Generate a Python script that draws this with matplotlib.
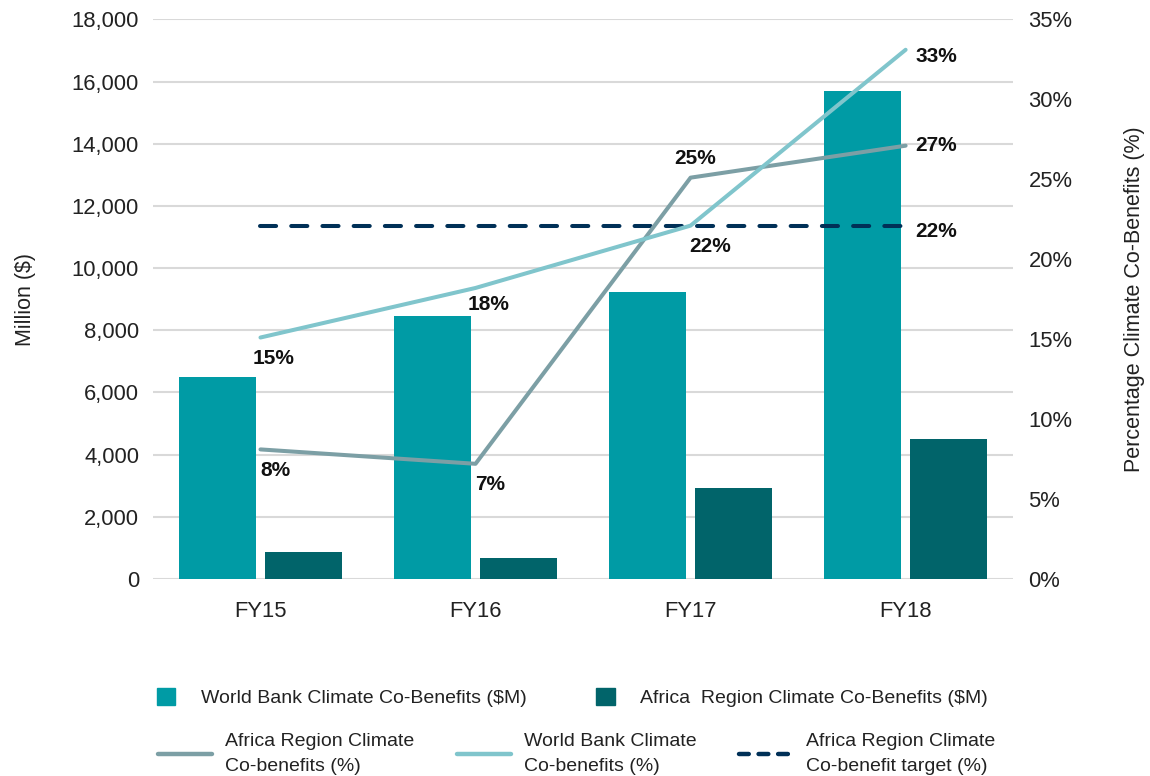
import matplotlib
matplotlib.use('Agg')
import matplotlib.pyplot as plt
import numpy as np
from matplotlib.patches import Patch
from matplotlib.lines import Line2D

plt.rcParams['font.family'] = ['Liberation Sans', 'DejaVu Sans']

years = ['FY15', 'FY16', 'FY17', 'FY18']
wb_usd = [6500, 8450, 9230, 15700]
africa_usd = [870, 680, 2930, 4500]
africa_pct = [8.1, 7.2, 25.1, 27.1]
wb_pct = [15.1, 18.2, 22.1, 33.1]
target_pct = [22.1, 22.1, 22.1, 22.1]
africa_lbl = ['8%', '7%', '25%', '27%']
wb_lbl = ['15%', '18%', '22%', '33%']

c_wb_bar = '#009BA5'
c_af_bar = '#01646A'
c_af_line = '#7C9FA5'
c_wb_line = '#80C5CC'
c_target = '#003057'
txt = '#222222'

fig = plt.figure(figsize=(11.5, 7.76), dpi=100)
ax = fig.add_axes([0.133, 0.254, 0.748, 0.721])
x = np.arange(len(years))
w = 0.36

ax.bar(x - 0.2, wb_usd, w, color=c_wb_bar, zorder=2)
ax.bar(x + 0.2, africa_usd, w, color=c_af_bar, zorder=2)
ax.set_xlim(-0.5, 3.5)
ax.set_ylim(0, 18000)
ax.set_yticks(range(0, 18001, 2000))
ax.set_yticklabels([f'{v:,}' for v in range(0, 18001, 2000)])
ax.set_xticks(x)
ax.set_xticklabels(years)
ax.grid(axis='y', color='#D9D9D9', lw=1.5, zorder=0)
ax.set_axisbelow(True)
for s in ax.spines.values():
    s.set_visible(False)
ax.tick_params(axis='y', length=0, pad=10, labelsize=15.8, labelcolor=txt)
ax.tick_params(axis='x', length=0, pad=16, labelsize=15.8, labelcolor=txt)
ax.set_ylabel('Million ($)', fontsize=15.5, color=txt, labelpad=26)

ax2 = ax.twinx()
ax2.set_ylim(0, 35)
ax2.set_yticks(range(0, 36, 5))
ax2.set_yticklabels([f'{v}%' for v in range(0, 36, 5)])
for s in ax2.spines.values():
    s.set_visible(False)
ax2.tick_params(axis='y', length=0, pad=11, labelsize=15.8, labelcolor=txt)
ax2.set_ylabel('Percentage Climate Co-Benefits (%)', fontsize=15.5, color=txt,
               rotation=90, labelpad=37)

ax2.plot(x, target_pct, color=c_target, lw=2.9, dashes=(4, 3.75),
         dash_capstyle='round', solid_capstyle='round', zorder=3)
ax2.plot(x, africa_pct, color=c_af_line, lw=2.9, solid_capstyle='round', zorder=4)
ax2.plot(x, wb_pct, color=c_wb_line, lw=2.9, solid_capstyle='round', zorder=5)

bold = dict(fontsize=15, fontweight='bold', color='#111111')
# data labels
for i in range(3):
    if i == 2:
        ax2.annotate(africa_lbl[i], (x[i], africa_pct[i]), xytext=(3, 14),
                     textcoords='offset points', ha='center', va='center', **bold)
        ax2.annotate(wb_lbl[i], (x[i], wb_pct[i]), xytext=(14, -15),
                     textcoords='offset points', ha='center', va='center', **bold)
    else:
        ax2.annotate(africa_lbl[i], (x[i], africa_pct[i]), xytext=(0, -15),
                     textcoords='offset points', ha='left', va='center', **bold)
        dy = -15 if i == 0 else -12
        ax2.annotate(wb_lbl[i], (x[i], wb_pct[i]), xytext=(-6, dy),
                     textcoords='offset points', ha='left', va='center', **bold)
ax2.annotate(wb_lbl[3], (x[3], wb_pct[3]), xytext=(7, -5),
             textcoords='offset points', ha='left', va='center', **bold)
ax2.annotate(africa_lbl[3], (x[3], africa_pct[3]), xytext=(7, 0),
             textcoords='offset points', ha='left', va='center', **bold)
ax2.annotate('22%', (x[3], target_pct[3]), xytext=(7, -4),
             textcoords='offset points', ha='left', va='center', **bold)

# legend
h1 = [Patch(color=c_wb_bar), Patch(color=c_af_bar)]
l1 = ['World Bank Climate Co-Benefits ($M)', 'Africa  Region Climate Co-Benefits ($M)']
fig.legend(h1, l1, loc='upper left', bbox_to_anchor=(0.1365, 0.113), ncol=2,
           frameon=False, fontsize=14, handlelength=0.95, handleheight=0.95,
           handletextpad=1.3, columnspacing=3.6, borderpad=0, borderaxespad=0,
           labelcolor=txt)
h2 = [Line2D([], [], color=c_af_line, lw=3.2, solid_capstyle='round'),
      Line2D([], [], color=c_wb_line, lw=3.2, solid_capstyle='round'),
      Line2D([], [], color=c_target, lw=3.2, dashes=(2.2, 2.2), dash_capstyle='round')]
l2 = ['Africa Region Climate\nCo-benefits (%)', 'World Bank Climate\nCo-benefits (%)',
      'Africa Region Climate\nCo-benefit target (%)']
leg2 = fig.legend(h2, l2, loc='upper left', bbox_to_anchor=(0.137, 0.055), ncol=3,
                  frameon=False, fontsize=14, handlelength=2.8, handletextpad=0.65,
                  columnspacing=2.2, borderpad=0, borderaxespad=0, labelcolor=txt)
for t in leg2.get_texts():
    t.set_linespacing(1.6)

fig.savefig('out.png', dpi=100)
